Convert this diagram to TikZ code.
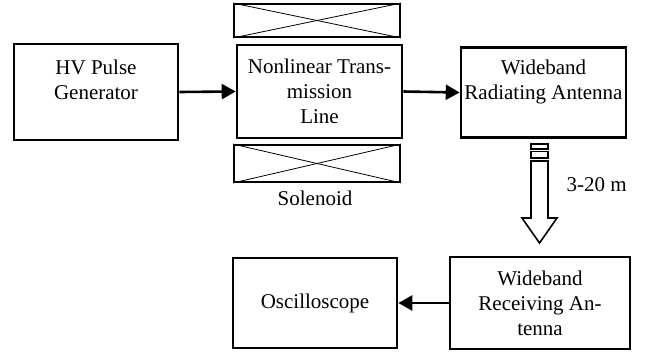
\documentclass[tikz,border=0pt]{standalone}
\usepackage{fontspec}
\setmainfont{Liberation Serif}
\usetikzlibrary{shapes.geometric, arrows.meta}

\tikzset{
	block/.style={draw, line width=2.6pt, align=center, inner sep=0pt, font=\fontsize{21}{25}\selectfont},
	coil/.style={draw, line width=1.8pt, inner sep=0pt},
	link/.style={line width=2.6pt, -{Triangle[length=14pt,width=15pt]}},
	txt/.style={font=\fontsize{21}{25}\selectfont}
}

\begin{document}
\begin{tikzpicture}[x=1pt, y=-1pt]
			
			\useasboundingbox (0,0) rectangle (659,351);
			
			\node[block, minimum width=164pt, minimum height=96pt] (gen) at (96,92) {HV Pulse\\Generator\\\mbox{}};
			\node[block, minimum width=165pt, minimum height=93pt] (nltl) at (319.5,91.5) {Nonlinear Trans-\\mission\\Line};
			\node[block, minimum width=165pt, minimum height=90pt] (rad) at (543.5,92.5) {Wideband\\Radiating Antenna\\\mbox{}};
			\node[block, minimum width=180pt, minimum height=92pt] (rcv) at (540,303) {Wideband\\Receiving An-\\tenna};
			\node[block, minimum width=164pt, minimum height=90pt] (osc) at (315,303) {Oscilloscope};
			
			% solenoid windings above and below the line
			\node[coil, minimum width=166pt, minimum height=33pt] (coiltop) at (317,20.5) {};
			\node[coil, minimum width=166pt, minimum height=37pt] (coilbot) at (317,163.5) {};
			\foreach \c in {coiltop,coilbot}
			{
				\draw[line width=0.8pt] (\c.north west) -- (\c.south east);
				\draw[line width=0.8pt] (\c.south west) -- (\c.north east);
			}
			\node[txt] (sol) at (315,198) {Solenoid};
			
			\draw[link] (gen.east) -- (nltl.west);
			\draw[link] (nltl.east) -- (rad.west);
			\draw[link] (rcv.west) -- (osc.east);
			
			% hollow arrow for the free-space path
			\draw[line width=1.6pt] (531,144) rectangle (548,149);
			\draw[line width=1.6pt] (531,151.5) rectangle (548,158);
			\draw[line width=1.6pt, line join=miter] (531,161) -- (531,218) -- (522,218) -- (539.5,243)
				-- (557,218) -- (548,218) -- (548,161) -- cycle;
			\node[txt, anchor=west] (dist) at (563,185) {3-20 m};
			
			\end{tikzpicture}
\end{document}
